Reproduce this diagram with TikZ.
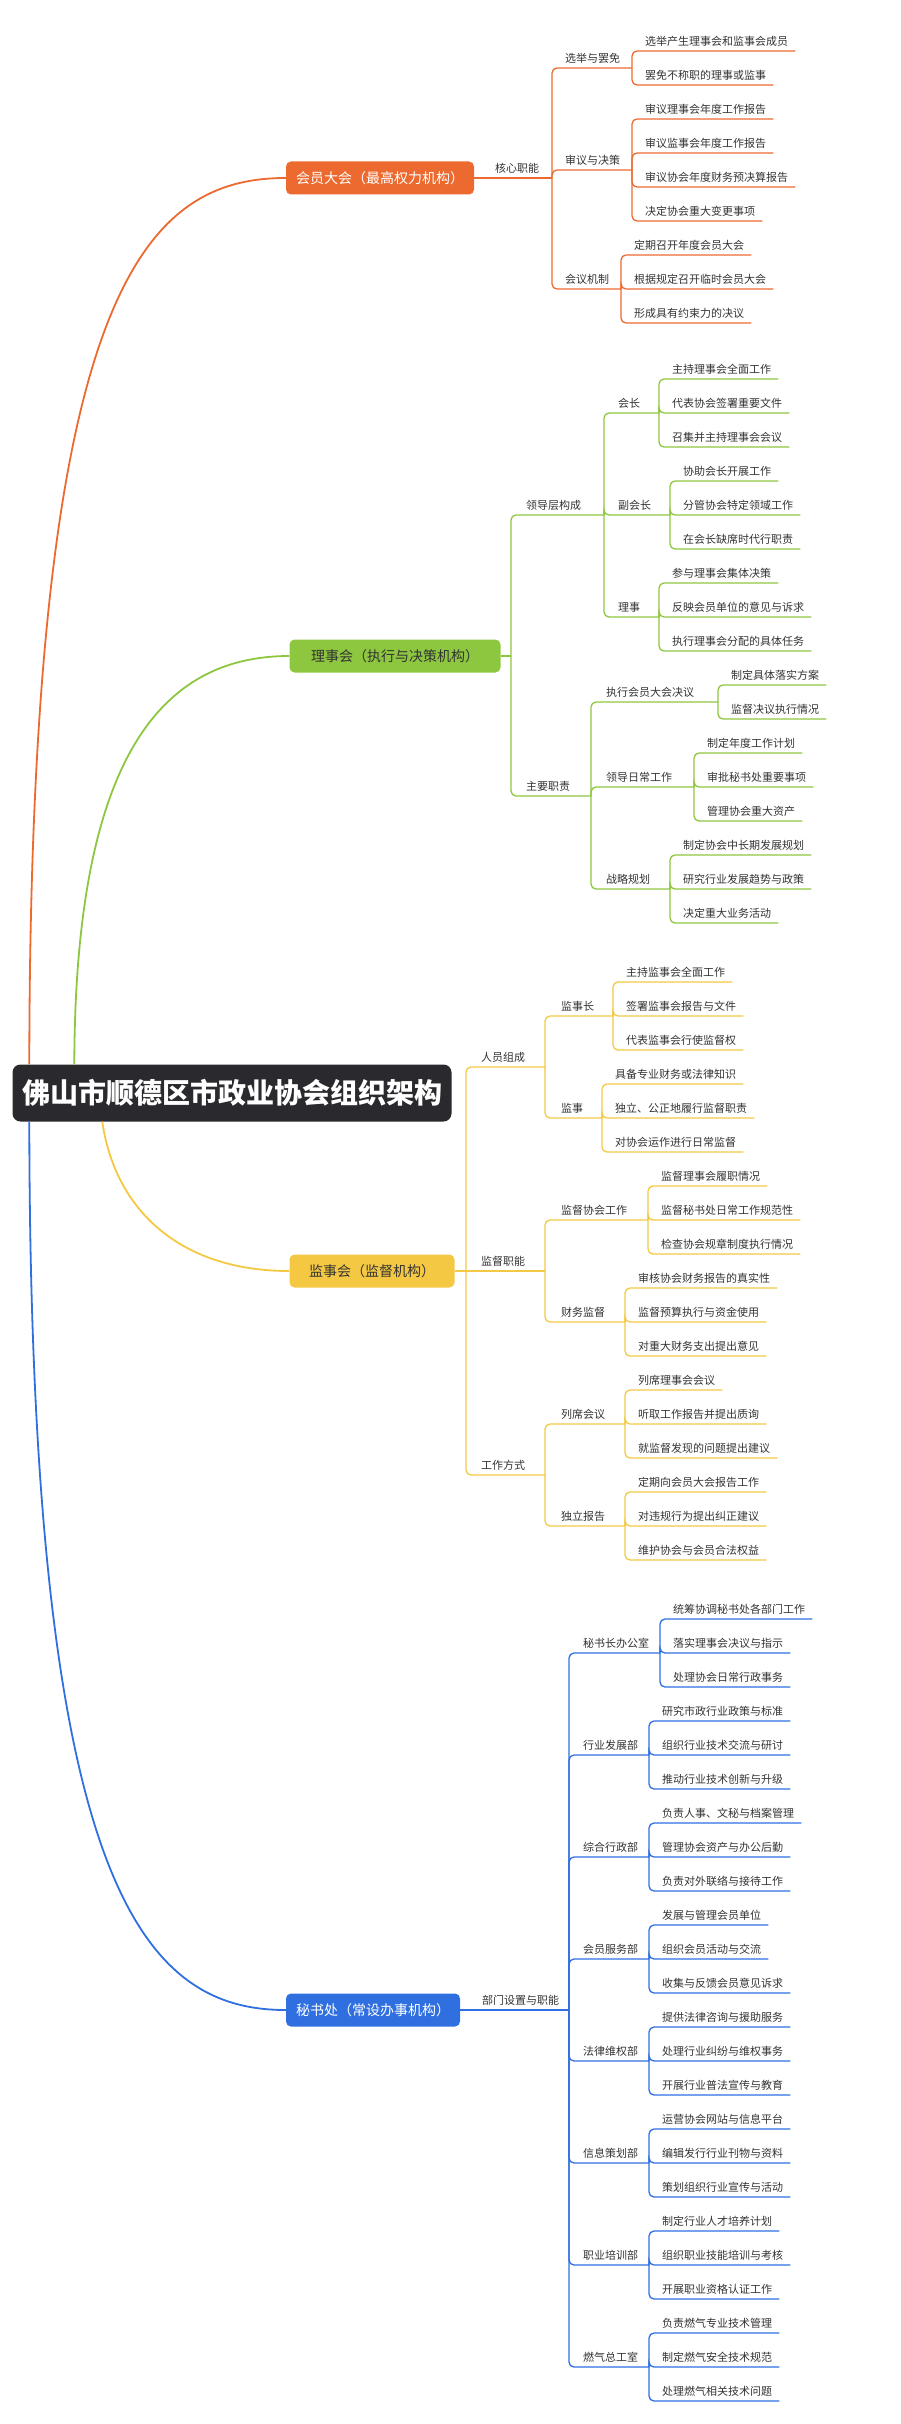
\documentclass[tikz,border=0pt]{standalone}
\usepackage{fontspec}
\setmainfont{Noto Sans CJK SC}
\usetikzlibrary{calc}
\definecolor{rootc}{HTML}{2A2A2E}
\definecolor{orn}{HTML}{EC6A2F}
\definecolor{grn}{HTML}{8DC63F}
\definecolor{ylw}{HTML}{F5C843}
\definecolor{blu}{HTML}{2F6FE0}
\definecolor{txt}{HTML}{333333}
\begin{document}
\begin{tikzpicture}[x=1pt,y=-1pt]
% -------------------------------------------------
\tikzset{
  root/.style={fill=rootc, rounded corners=8pt, text=white, font=\bfseries\fontsize{28}{30}\selectfont, minimum width=439pt, minimum height=57pt},
  box/.style={rounded corners=5pt, minimum height=33pt, font=\fontsize{14}{16}\selectfont, inner xsep=10pt},
  lab/.style={anchor=south west, inner xsep=0pt, inner ysep=4pt, font=\fontsize{11}{13}\selectfont, text=txt},
  leaf/.style={lab, inner xsep=7pt},
  br/.style={line width=1.3pt, rounded corners=5pt},
  main/.style={line width=1.8pt},
}
\useasboundingbox (0,0) rectangle (900,2424);

\node [root] (root) at (232,1093) {佛山市顺德区市政业协会组织架构};

\node [box, fill=orn, text=white, minimum width=185pt] (m1) at (380,178) {会员大会（最高权力机构）};
\node [box, fill=grn, text=txt, minimum width=211pt] (m2) at (395,656) {理事会（执行与决策机构）};
\node [box, fill=ylw, text=txt, minimum width=165pt] (m3) at (372,1271) {监事会（监督机构）};
\node [box, fill=blu, text=white, minimum width=171pt] (m4) at (373,2010) {秘书处（常设办事机构）};

\draw [main, orn] ($(root.north west)+(17,0)$) .. controls (30,300) and (140,178) .. (m1.west);
\draw [main, grn] ($(root.north west)+(62,0)$) .. controls (75,760) and (160,656) .. (m2.west);
\draw [main, ylw] ($(root.south west)+(90,0)$) .. controls (115,1210) and (180,1271) .. (m3.west);
\draw [main, blu] ($(root.south west)+(17,0)$) .. controls (30,1880) and (140,2010) .. (m4.west);

% ---------------- 会员大会
\node [lab] (a0) at (495,178) {核心职能};
\coordinate (a0b) at (552,178);
\draw [br, orn] (m1.east) -- (a0b);
\node [lab] (a1) at (565,68) {选举与罢免};
\coordinate (a1b) at (632,68);
\draw [br, orn] (a0b) |- (a1b);
\node [leaf] (a11) at (638,51) {选举产生理事会和监事会成员};
\node [leaf] (a12) at (638,85) {罢免不称职的理事或监事};
\draw [br, orn] (a1b) |- (a11.south east);
\draw [br, orn] (a1b) |- (a12.south east);
\node [lab] (a2) at (565,170) {审议与决策};
\coordinate (a2b) at (632,170);
\draw [br, orn] (a0b) |- (a2b);
\node [leaf] (a21) at (638,119) {审议理事会年度工作报告};
\node [leaf] (a22) at (638,153) {审议监事会年度工作报告};
\node [leaf] (a23) at (638,187) {审议协会年度财务预决算报告};
\node [leaf] (a24) at (638,221) {决定协会重大变更事项};
\foreach \i in {1,...,4} \draw [br, orn] (a2b) |- (a2\i.south east);
\node [lab] (a3) at (565,289) {会议机制};
\coordinate (a3b) at (621,289);
\draw [br, orn] (a0b) |- (a3b);
\node [leaf] (a31) at (627,255) {定期召开年度会员大会};
\node [leaf] (a32) at (627,289) {根据规定召开临时会员大会};
\node [leaf] (a33) at (627,323) {形成具有约束力的决议};
\foreach \i in {1,...,3} \draw [br, orn] (a3b) |- (a3\i.south east);

% ---------------- 理事会
\coordinate (b0b) at (511,656);
\draw [br, grn] (m2.east) -- (b0b);
\node [lab] (b1) at (526,515) {领导层构成};
\coordinate (b1b) at (604,515);
\draw [br, grn] (b0b) |- (b1b);
\node [lab] (b11) at (618,413) {会长};
\coordinate (b11b) at (659,413);
\draw [br, grn] (b1b) |- (b11b);
\node [leaf] (b111) at (665,379) {主持理事会全面工作};
\node [leaf] (b112) at (665,413) {代表协会签署重要文件};
\node [leaf] (b113) at (665,447) {召集并主持理事会会议};
\foreach \i in {1,...,3} \draw [br, grn] (b11b) |- (b11\i.south east);
\node [lab] (b12) at (618,515) {副会长};
\coordinate (b12b) at (670,515);
\draw [br, grn] (b1b) |- (b12b);
\node [leaf] (b121) at (676,481) {协助会长开展工作};
\node [leaf] (b122) at (676,515) {分管协会特定领域工作};
\node [leaf] (b123) at (676,549) {在会长缺席时代行职责};
\foreach \i in {1,...,3} \draw [br, grn] (b12b) |- (b12\i.south east);
\node [lab] (b13) at (618,617) {理事};
\coordinate (b13b) at (659,617);
\draw [br, grn] (b1b) |- (b13b);
\node [leaf] (b131) at (665,583) {参与理事会集体决策};
\node [leaf] (b132) at (665,617) {反映会员单位的意见与诉求};
\node [leaf] (b133) at (665,651) {执行理事会分配的具体任务};
\foreach \i in {1,...,3} \draw [br, grn] (b13b) |- (b13\i.south east);

\node [lab] (b2) at (526,796) {主要职责};
\coordinate (b2b) at (591,796);
\draw [br, grn] (b0b) |- (b2b);
\node [lab] (b21) at (606,702) {执行会员大会决议};
\coordinate (b21b) at (718,702);
\draw [br, grn] (b2b) |- (b21b);
\node [leaf] (b211) at (724,685) {制定具体落实方案};
\node [leaf] (b212) at (724,719) {监督决议执行情况};
\foreach \i in {1,2} \draw [br, grn] (b21b) |- (b21\i.south east);
\node [lab] (b22) at (606,787) {领导日常工作};
\coordinate (b22b) at (694,787);
\draw [br, grn] (b2b) |- (b22b);
\node [leaf] (b221) at (700,753) {制定年度工作计划};
\node [leaf] (b222) at (700,787) {审批秘书处重要事项};
\node [leaf] (b223) at (700,821) {管理协会重大资产};
\foreach \i in {1,...,3} \draw [br, grn] (b22b) |- (b22\i.south east);
\node [lab] (b23) at (606,889) {战略规划};
\coordinate (b23b) at (670,889);
\draw [br, grn] (b2b) |- (b23b);
\node [leaf] (b231) at (676,855) {制定协会中长期发展规划};
\node [leaf] (b232) at (676,889) {研究行业发展趋势与政策};
\node [leaf] (b233) at (676,923) {决定重大业务活动};
\foreach \i in {1,...,3} \draw [br, grn] (b23b) |- (b23\i.south east);

% ---------------- 监事会
\coordinate (c0b) at (466,1271);
\draw [br, ylw] (m3.east) -- (c0b);
\node [lab] (c1) at (481,1067) {人员组成};
\coordinate (c1b) at (545,1067);
\draw [br, ylw] (c0b) |- (c1b);
\node [lab] (c11) at (561,1016) {监事长};
\coordinate (c11b) at (613,1016);
\draw [br, ylw] (c1b) |- (c11b);
\node [leaf] (c111) at (619,982) {主持监事会全面工作};
\node [leaf] (c112) at (619,1016) {签署监事会报告与文件};
\node [leaf] (c113) at (619,1050) {代表监事会行使监督权};
\foreach \i in {1,...,3} \draw [br, ylw] (c11b) |- (c11\i.south east);
\node [lab] (c12) at (561,1118) {监事};
\coordinate (c12b) at (602,1118);
\draw [br, ylw] (c1b) |- (c12b);
\node [leaf] (c121) at (608,1084) {具备专业财务或法律知识};
\node [leaf] (c122) at (608,1118) {独立、公正地履行监督职责};
\node [leaf] (c123) at (608,1152) {对协会运作进行日常监督};
\foreach \i in {1,...,3} \draw [br, ylw] (c12b) |- (c12\i.south east);

\node [lab] (c2) at (481,1271) {监督职能};
\coordinate (c2b) at (545,1271);
\draw [br, ylw] (c0b) -- (c2b);
\node [lab] (c21) at (561,1220) {监督协会工作};
\coordinate (c21b) at (648,1220);
\draw [br, ylw] (c2b) |- (c21b);
\node [leaf] (c211) at (654,1186) {监督理事会履职情况};
\node [leaf] (c212) at (654,1220) {监督秘书处日常工作规范性};
\node [leaf] (c213) at (654,1254) {检查协会规章制度执行情况};
\foreach \i in {1,...,3} \draw [br, ylw] (c21b) |- (c21\i.south east);
\node [lab] (c22) at (561,1322) {财务监督};
\coordinate (c22b) at (625,1322);
\draw [br, ylw] (c2b) |- (c22b);
\node [leaf] (c221) at (631,1288) {审核协会财务报告的真实性};
\node [leaf] (c222) at (631,1322) {监督预算执行与资金使用};
\node [leaf] (c223) at (631,1356) {对重大财务支出提出意见};
\foreach \i in {1,...,3} \draw [br, ylw] (c22b) |- (c22\i.south east);

\node [lab] (c3) at (481,1475) {工作方式};
\coordinate (c3b) at (545,1475);
\draw [br, ylw] (c0b) |- (c3b);
\node [lab] (c31) at (561,1424) {列席会议};
\coordinate (c31b) at (625,1424);
\draw [br, ylw] (c3b) |- (c31b);
\node [leaf] (c311) at (631,1390) {列席理事会会议};
\node [leaf] (c312) at (631,1424) {听取工作报告并提出质询};
\node [leaf] (c313) at (631,1458) {就监督发现的问题提出建议};
\foreach \i in {1,...,3} \draw [br, ylw] (c31b) |- (c31\i.south east);
\node [lab] (c32) at (561,1526) {独立报告};
\coordinate (c32b) at (625,1526);
\draw [br, ylw] (c3b) |- (c32b);
\node [leaf] (c321) at (631,1492) {定期向会员大会报告工作};
\node [leaf] (c322) at (631,1526) {对违规行为提出纠正建议};
\node [leaf] (c323) at (631,1560) {维护协会与会员合法权益};
\foreach \i in {1,...,3} \draw [br, ylw] (c32b) |- (c32\i.south east);

% ---------------- 秘书处
\node [lab] (d0) at (482,2010) {部门设置与职能};
\coordinate (d0b) at (569,2010);
\draw [br, blu] (m4.east) -- (d0b);
\node [lab] (d1) at (583,1653) {秘书长办公室};
\coordinate (d1b) at (660,1653);
\draw [br, blu] (d0b) |- (d1b);
\node [leaf] (d11) at (666,1619) {统筹协调秘书处各部门工作};
\node [leaf] (d12) at (666,1653) {落实理事会决议与指示};
\node [leaf] (d13) at (666,1687) {处理协会日常行政事务};
\foreach \i in {1,...,3} \draw [br, blu] (d1b) |- (d1\i.south east);
\node [lab] (d2) at (583,1755) {行业发展部};
\coordinate (d2b) at (649,1755);
\draw [br, blu] (d0b) |- (d2b);
\node [leaf] (d21) at (655,1721) {研究市政行业政策与标准};
\node [leaf] (d22) at (655,1755) {组织行业技术交流与研讨};
\node [leaf] (d23) at (655,1789) {推动行业技术创新与升级};
\foreach \i in {1,...,3} \draw [br, blu] (d2b) |- (d2\i.south east);
\node [lab] (d3) at (583,1857) {综合行政部};
\coordinate (d3b) at (649,1857);
\draw [br, blu] (d0b) |- (d3b);
\node [leaf] (d31) at (655,1823) {负责人事、文秘与档案管理};
\node [leaf] (d32) at (655,1857) {管理协会资产与办公后勤};
\node [leaf] (d33) at (655,1891) {负责对外联络与接待工作};
\foreach \i in {1,...,3} \draw [br, blu] (d3b) |- (d3\i.south east);
\node [lab] (d4) at (583,1959) {会员服务部};
\coordinate (d4b) at (649,1959);
\draw [br, blu] (d0b) |- (d4b);
\node [leaf] (d41) at (655,1925) {发展与管理会员单位};
\node [leaf] (d42) at (655,1959) {组织会员活动与交流};
\node [leaf] (d43) at (655,1993) {收集与反馈会员意见诉求};
\foreach \i in {1,...,3} \draw [br, blu] (d4b) |- (d4\i.south east);
\node [lab] (d5) at (583,2061) {法律维权部};
\coordinate (d5b) at (649,2061);
\draw [br, blu] (d0b) |- (d5b);
\node [leaf] (d51) at (655,2027) {提供法律咨询与援助服务};
\node [leaf] (d52) at (655,2061) {处理行业纠纷与维权事务};
\node [leaf] (d53) at (655,2095) {开展行业普法宣传与教育};
\foreach \i in {1,...,3} \draw [br, blu] (d5b) |- (d5\i.south east);
\node [lab] (d6) at (583,2163) {信息策划部};
\coordinate (d6b) at (649,2163);
\draw [br, blu] (d0b) |- (d6b);
\node [leaf] (d61) at (655,2129) {运营协会网站与信息平台};
\node [leaf] (d62) at (655,2163) {编辑发行行业刊物与资料};
\node [leaf] (d63) at (655,2197) {策划组织行业宣传与活动};
\foreach \i in {1,...,3} \draw [br, blu] (d6b) |- (d6\i.south east);
\node [lab] (d7) at (583,2265) {职业培训部};
\coordinate (d7b) at (649,2265);
\draw [br, blu] (d0b) |- (d7b);
\node [leaf] (d71) at (655,2231) {制定行业人才培养计划};
\node [leaf] (d72) at (655,2265) {组织职业技能培训与考核};
\node [leaf] (d73) at (655,2299) {开展职业资格认证工作};
\foreach \i in {1,...,3} \draw [br, blu] (d7b) |- (d7\i.south east);
\node [lab] (d8) at (583,2367) {燃气总工室};
\coordinate (d8b) at (649,2367);
\draw [br, blu] (d0b) |- (d8b);
\node [leaf] (d81) at (655,2333) {负责燃气专业技术管理};
\node [leaf] (d82) at (655,2367) {制定燃气安全技术规范};
\node [leaf] (d83) at (655,2401) {处理燃气相关技术问题};
\foreach \i in {1,...,3} \draw [br, blu] (d8b) |- (d8\i.south east);
\end{tikzpicture}
\end{document}
